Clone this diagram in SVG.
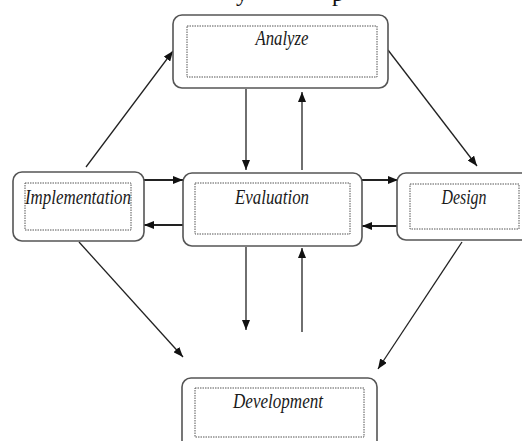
<svg xmlns="http://www.w3.org/2000/svg" width="522" height="441" viewBox="0 0 522 441">
  <defs>
    <marker id="ah" viewBox="0 0 10 8" refX="10" refY="4" markerWidth="10" markerHeight="8" markerUnits="userSpaceOnUse" orient="auto">
      <path d="M0,0 L10,4 L0,8 z" fill="#111"/>
    </marker>
  </defs>
  <style>
    .outer { fill: #fff; stroke: #555; stroke-width: 1.6; }
    .inner { fill: none; stroke: #555; stroke-width: 1; stroke-dasharray: 1.5 1; }
    .lbl { font-family: "Liberation Serif", "Times New Roman", serif; font-style: italic; font-size: 20px; fill: #1a1a1a; text-anchor: middle; }
    .top { font-family: "Liberation Serif", "Times New Roman", serif; font-size: 24px; fill: #111; }
    .c { stroke: #222; stroke-width: 1.3; fill: none; marker-end: url(#ah); }
    .h { stroke-width: 2.2; }
  </style>
  <rect width="522" height="441" fill="#fff"/>
  <g id="caption">
    <text class="top" x="236" y="0.5">y</text>
    <text class="top" x="332" y="0.5">p</text>
  </g>
  <g id="connectors">
    <path class="c" d="M86,167 L173,51"/>
    <path class="c" d="M388,50 L477,166"/>
    <path class="c" d="M246,89 L246,170"/>
    <path class="c" d="M302,170 L302,92"/>
    <path class="c h" d="M144,180 L183,180"/>
    <path class="c h" d="M183,225 L144,225"/>
    <path class="c h" d="M362,180 L398,180"/>
    <path class="c h" d="M398,226 L362,226"/>
    <path class="c" d="M246,247 L246,330"/>
    <path class="c" d="M302,332 L302,248"/>
    <path class="c" d="M79,242 L183,357"/>
    <path class="c" d="M462,242 L378,369"/>
  </g>
  <g id="analyze">
    <rect class="outer" x="173" y="15" width="215" height="73" rx="9"/>
    <rect class="inner" x="187" y="26" width="190" height="51"/>
    <text class="lbl" x="282" y="45" textLength="53" lengthAdjust="spacingAndGlyphs">Analyze</text>
  </g>
  <g id="implementation">
    <rect class="outer" x="13" y="172" width="131" height="69" rx="9"/>
    <rect class="inner" x="25" y="183" width="106" height="47"/>
    <text class="lbl" x="78" y="204" textLength="106" lengthAdjust="spacingAndGlyphs">Implementation</text>
  </g>
  <g id="evaluation">
    <rect class="outer" x="183" y="173" width="179" height="73" rx="9"/>
    <rect class="inner" x="195" y="183" width="155" height="51"/>
    <text class="lbl" x="272" y="204" textLength="74" lengthAdjust="spacingAndGlyphs">Evaluation</text>
  </g>
  <g id="design">
    <rect class="outer" x="397" y="173" width="140" height="67" rx="9"/>
    <rect class="inner" x="410" y="184" width="109" height="45"/>
    <text class="lbl" x="464" y="204" textLength="45" lengthAdjust="spacingAndGlyphs">Design</text>
  </g>
  <g id="development">
    <rect class="outer" x="182" y="378" width="195" height="80" rx="9"/>
    <rect class="inner" x="195" y="388" width="169" height="49"/>
    <text class="lbl" x="278" y="408" textLength="90" lengthAdjust="spacingAndGlyphs">Development</text>
  </g>
</svg>
